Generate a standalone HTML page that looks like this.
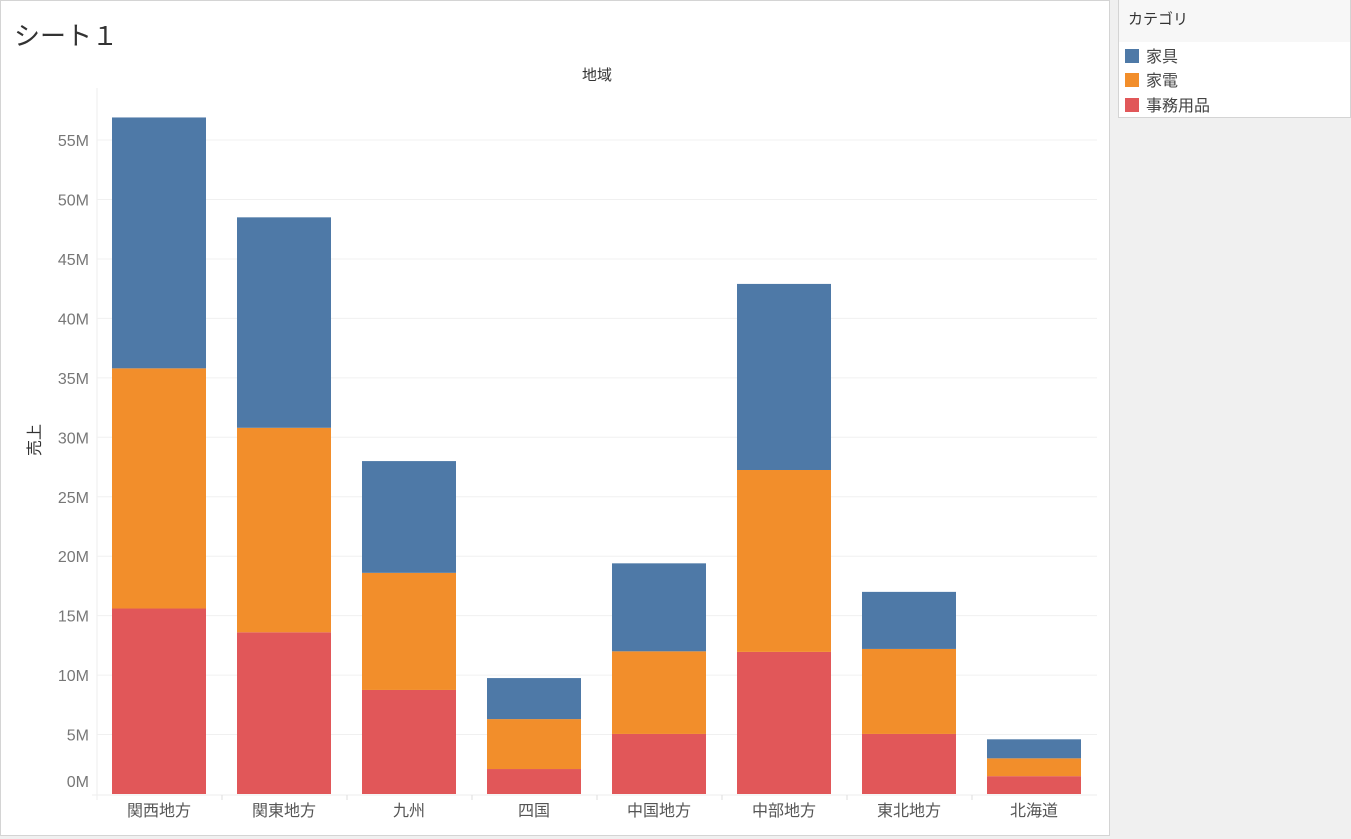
<!DOCTYPE html>
<html><head><meta charset="utf-8"><style>
body{margin:0;width:1351px;height:839px;background:#f0f0f0;font-family:"Liberation Sans","Noto Sans CJK JP",sans-serif;overflow:hidden;position:relative}
#main{position:absolute;left:0;top:0;width:1108px;height:834px;background:#fff;border:1px solid #d4d4d4}
#svg{position:absolute;left:-1px;top:-1px}
#legend{position:absolute;left:1118px;top:0;width:231px;height:117px;background:#fff;border:1px solid #d4d4d4;border-top:none}
</style></head><body>
<div id="main">
<svg width="1109" height="835" id="svg"></svg>
</div>
<div id="legend">
<div style="height:42px;background:#f7f7f7;font-size:15px;color:#333;line-height:40px;padding-left:9px">カテゴリ</div>
<div style="position:absolute;left:6px;top:43px;font-size:16px;color:#444"><span style="display:inline-block;width:14px;height:14px;background:#4e79a7;vertical-align:-1px;margin-right:7px"></span>家具</div>
<div style="position:absolute;left:6px;top:67px;font-size:16px;color:#444"><span style="display:inline-block;width:14px;height:14px;background:#f28e2b;vertical-align:-1px;margin-right:7px"></span>家電</div>
<div style="position:absolute;left:6px;top:92px;font-size:16px;color:#444"><span style="display:inline-block;width:14px;height:14px;background:#e15759;vertical-align:-1px;margin-right:7px"></span>事務用品</div>
</div>
<script>
const categories=["関西地方","関東地方","九州","四国","中国地方","中部地方","東北地方","北海道"];
const office=[15.6,13.6,8.75,2.1,5.05,11.95,5.05,1.5];
const appliance=[20.2,17.2,9.85,4.2,6.95,15.3,7.15,1.5];
const furniture=[21.1,17.7,9.4,3.45,7.4,15.65,4.8,1.6];
const yTicks=[0,5,10,15,20,25,30,35,40,45,50,55];
const NS="http://www.w3.org/2000/svg";
const svg=document.getElementById('svg');
const y0=794,pxPerM=11.89,plotL=97,plotR=1097,step=125,bw=94;
function y(v){return y0-v*pxPerM;}
function x(i){return plotL+step*i+62;}
function mk(t,a){const e=document.createElementNS(NS,t);for(const k in a)e.setAttribute(k,a[k]);svg.appendChild(e);return e;}
let t=mk('text',{x:14,y:45,'font-size':26,fill:'#333'});t.textContent='シート１';


t=mk('text',{x:597,y:80,'font-size':15,fill:'#333','text-anchor':'middle'});t.textContent='地域';


t=mk('text',{x:0,y:0,'font-size':16,fill:'#333','text-anchor':'middle',transform:'translate(40,440) rotate(-90)'});t.textContent='売上';


let l=mk('line',{x1:plotL,y1:88,x2:plotL,y2:800,stroke:'#eee'});


yTicks.forEach(v=>{
 if(v>0){const g=mk('line',{x1:plotL,y1:y(v),x2:plotR,y2:y(v),stroke:'#f0f0f0'});
 
 }
 const tx=mk('text',{x:89,y:v===0?y(v)-7:y(v)+6,'font-size':16,fill:'#777','text-anchor':'end'});tx.textContent=v+'M';
 
 
});
l=mk('line',{x1:92,y1:y0+1,x2:plotR,y2:y0+1,stroke:'#eee'});


const series=[[office,'#e15759','office'],[appliance,'#f28e2b','appliance'],[furniture,'#4e79a7','furniture']];
categories.forEach((c,i)=>{
 let base=0;
 series.forEach(([arr,col,nm])=>{
  const r=mk('rect',{x:x(i)-bw/2,y:y(base+arr[i]),width:bw,height:arr[i]*pxPerM,fill:col});
  
  
  base+=arr[i];
 });
 const tx=mk('text',{x:x(i),y:816,'font-size':16,fill:'#555','text-anchor':'middle'});tx.textContent=c;
 
 
 if(i>0){const d=mk('line',{x1:plotL+step*i,y1:795,x2:plotL+step*i,y2:800,stroke:'#ddd'});
 
 }
});
</script>
</body></html>
